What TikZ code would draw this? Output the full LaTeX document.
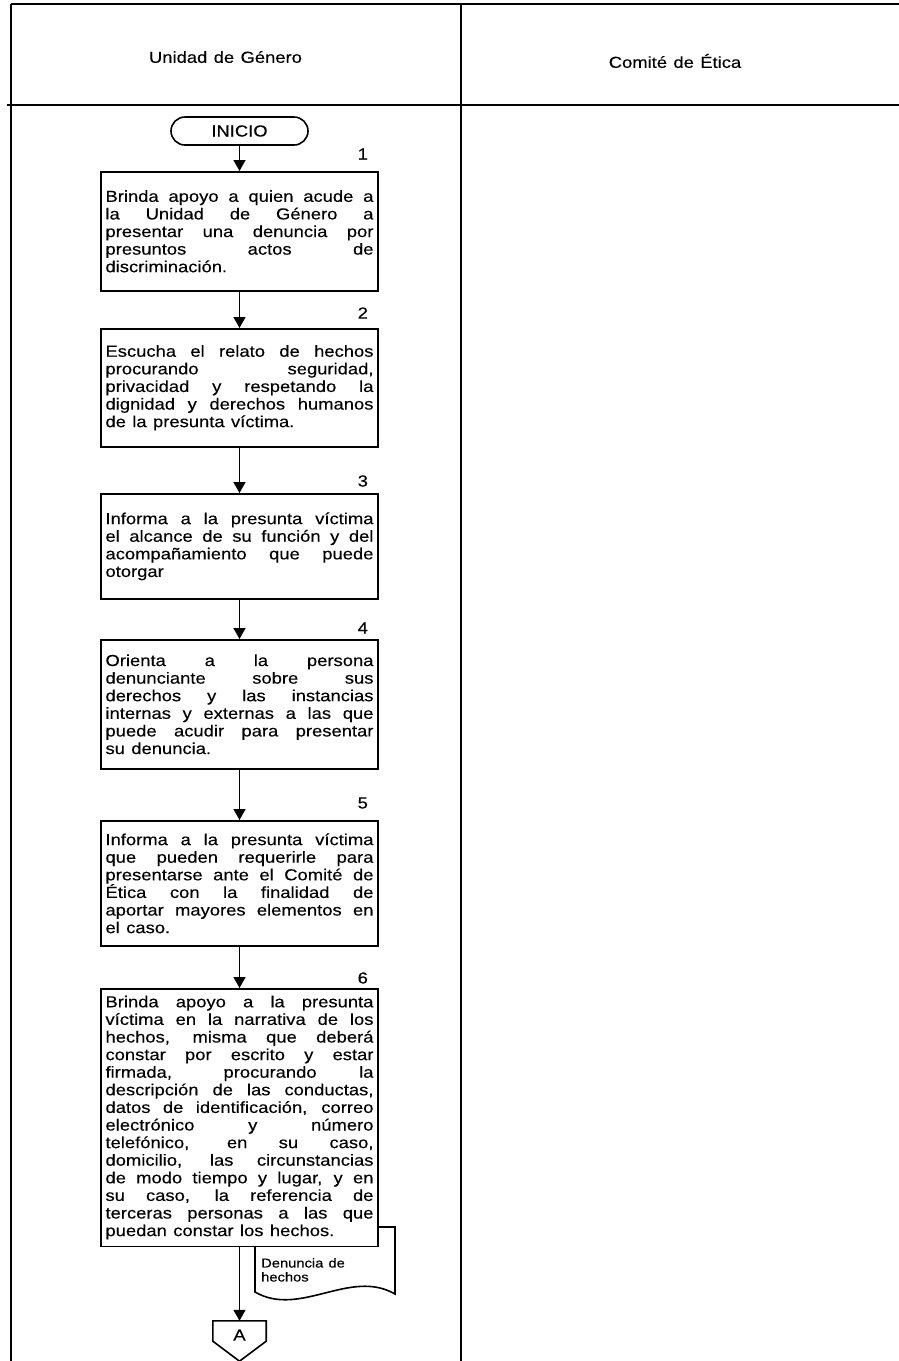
\documentclass[tikz,border=0pt]{standalone}
\usepackage{fontspec}
\setmainfont{Liberation Sans}[FakeStretch=1.15,WordSpace=1.25,FakeBold=0.2]
\usetikzlibrary{arrows.meta}
\tolerance=10000
\hbadness=10000
\hyphenpenalty=10000
\exhyphenpenalty=10000

\begin{document}
\begin{tikzpicture}[x=1pt,y=-1pt,font=\fontsize{16}{17.6}\selectfont,
	linea/.style={line width=1.6pt},
	paso/.style={draw,line width=1.6pt,fill=white,anchor=north,text width=268pt,minimum width=277pt,inner xsep=4.5pt,inner ysep=2pt,align=justify},
	terminal/.style={draw,line width=1.6pt,rounded corners=14pt,minimum width=137pt,minimum height=28pt,inner sep=0pt},
	flecha/.style={line width=1.6pt,-{Triangle[width=12pt,length=11pt]}}]
	\useasboundingbox (0,0) rectangle (899,1361);
	% carriles
	\draw[linea] (11,4) -- (899,4);
	\draw[linea] (7,105) -- (899,105);
	\draw[linea] (11,4) -- (11,1361);
	\draw[linea] (461,4) -- (461,1361);
	\node (ug) at (225.5,57) {Unidad de Género};
	\node (ce) at (675,61) {Comité de Ética};
	% documento
	\draw[linea,fill=white] (255,1227) -- (395,1227) -- (395,1294) .. controls (350,1268) and (300,1318) .. (255,1292) -- cycle;
	\node[anchor=north west,inner sep=0pt,align=left,font=\fontsize{12.8}{14}\selectfont] (doc) at (261,1258) {Denuncia de\\hechos};
	% pasos
	\node[terminal] (ini) at (239.5,131) {INICIO};
	\node[paso,minimum height=119pt] (p1) at (239.5,171) {Brinda apoyo a quien acude a\linebreak la Unidad de Género a\linebreak presentar una denuncia por\linebreak presuntos actos de\linebreak discriminación.};
	\node[paso,minimum height=118pt] (p2) at (239.5,328) {Escucha el relato de hechos\linebreak procurando seguridad,\linebreak privacidad y respetando la\linebreak dignidad y derechos humanos\linebreak de la presunta víctima.};
	\node[paso,minimum height=105pt] (p3) at (239.5,493) {Informa a la presunta víctima\linebreak el alcance de su función y del\linebreak acompañamiento que puede\linebreak otorgar};
	\node[paso,minimum height=129pt] (p4) at (239.5,639) {Orienta a la persona\linebreak denunciante sobre sus\linebreak derechos y las instancias\linebreak internas y externas a las que\linebreak puede acudir para presentar\linebreak su denuncia.};
	\node[paso,minimum height=125pt] (p5) at (239.5,820) {Informa a la presunta víctima\linebreak que pueden requerirle para\linebreak presentarse ante el Comité de\linebreak Ética con la finalidad de\linebreak aportar mayores elementos en\linebreak el caso.};
	\node[paso,minimum height=257.5pt] (p6) at (239.5,988) {Brinda apoyo a la presunta\linebreak víctima en la narrativa de los\linebreak hechos, misma que deberá\linebreak constar por escrito y estar\linebreak firmada, procurando la\linebreak descripción de las conductas,\linebreak datos de identificación, correo\linebreak electrónico y número\linebreak telefónico, en su caso,\linebreak domicilio, las circunstancias\linebreak de modo tiempo y lugar, y en\linebreak su caso, la referencia de\linebreak terceras personas a las que\linebreak puedan constar los hechos.};
	\foreach \n/\d in {1/17,2/15,3/12,4/11,5/17,6/10} \node at ([xshift=-16pt,yshift=\d pt]p\n.north east) {\n};
	% conector
	\node[minimum width=53pt,minimum height=28pt,inner sep=0pt] (conA) at (239.5,1335) {A};
	\draw[linea] (conA.north west) -- (conA.north east) -- ([yshift=8pt]conA.south east) -- ([yshift=-12pt]conA.south) -- ([yshift=8pt]conA.south west) -- cycle;
	% flechas
	\draw[flecha] (ini) -- (p1);
	\draw[flecha] (p1) -- (p2);
	\draw[flecha] (p2) -- (p3);
	\draw[flecha] (p3) -- (p4);
	\draw[flecha] (p4) -- (p5);
	\draw[flecha] (p5) -- (p6);
	\draw[flecha] (p6) -- (conA);
\end{tikzpicture}
\end{document}
